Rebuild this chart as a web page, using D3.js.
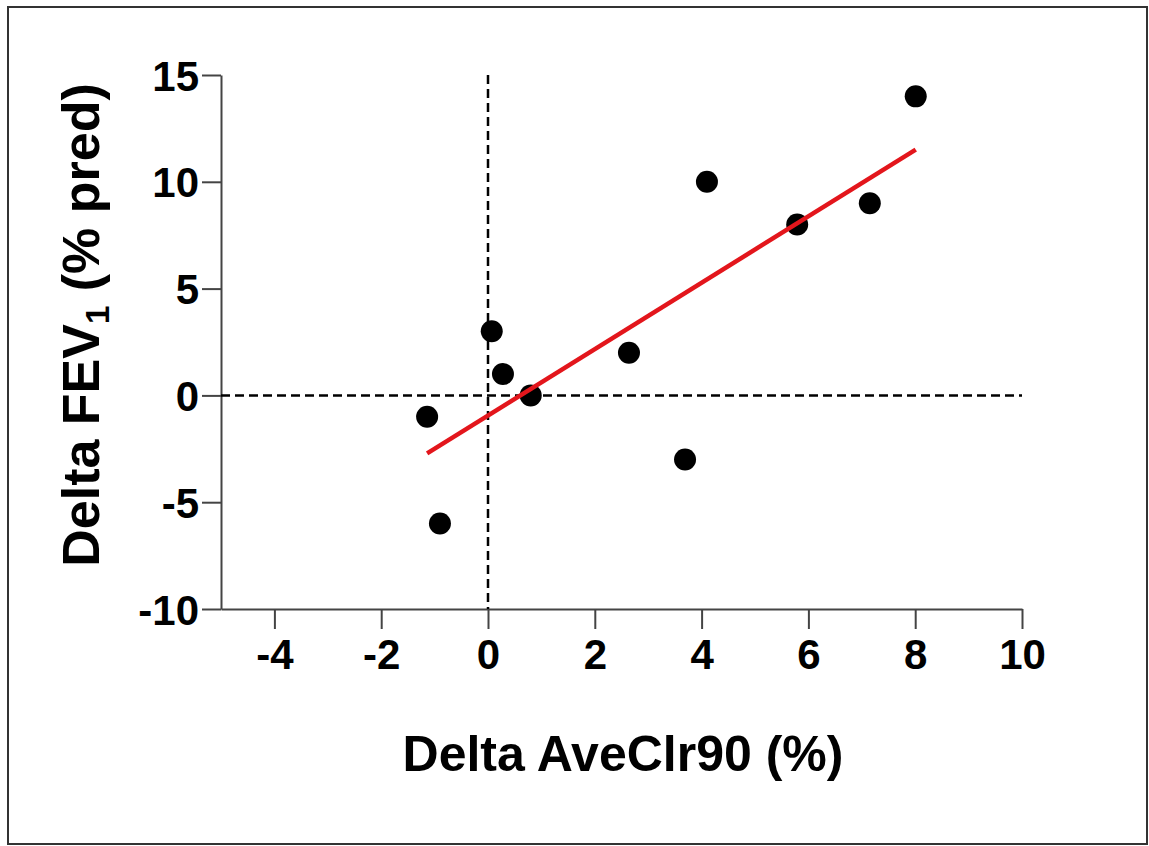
<!DOCTYPE html>
<html><head><meta charset="utf-8">
<script src="https://cdn.jsdelivr.net/npm/d3@7"></script>
<style>
html,body{margin:0;padding:0;background:#fff;}
svg text{font-family:"Liberation Sans",Arial,sans-serif;font-weight:bold;fill:#000;}
</style></head>
<body>
<svg id="chart" width="1149" height="846"></svg>
<script>
const deltaAveClr90 = [-1.14, -0.9, 0.07, 0.28, 0.8, 2.64, 3.69, 4.1, 5.79, 7.15, 8.01];
const deltaFEV1 = [-1, -6, 3, 1, 0, 2, -3, 10, 8, 9, 14];
const xTicks = [-4, -2, 0, 2, 4, 6, 8, 10];
const yTicks = [-10, -5, 0, 5, 10, 15];
const xDomain = [-5, 10];
const yDomain = [-10, 15];

const svg = d3.select("#chart");
const m = {left: 221, right: 1022, top: 75, bottom: 609};

svg.append("rect").attr("x", 8).attr("y", 7).attr("width", 1139).attr("height", 837)
  .attr("fill", "#fff").attr("stroke", "#333").attr("stroke-width", 2);

const x = d3.scaleLinear().domain(xDomain).range([m.left, m.right]);
const y = d3.scaleLinear().domain(yDomain).range([m.bottom, m.top]);

const xAxis = svg.append("g").attr("transform", `translate(0,${m.bottom})`)
  .call(d3.axisBottom(x).tickValues(xTicks).tickSize(20).tickSizeOuter(0).tickPadding(10));
const yAxis = svg.append("g").attr("transform", `translate(${m.left},0)`)
  .call(d3.axisLeft(y).tickValues(yTicks).tickSize(19).tickSizeOuter(0).tickPadding(3));
[xAxis, yAxis].forEach(g => {
  g.select(".domain").attr("stroke", "#444").attr("stroke-width", 2);
  g.selectAll(".tick line").attr("stroke", "#444").attr("stroke-width", 2);
  g.selectAll(".tick text").attr("font-size", 42).attr("fill", "#000")
    .style("font-family", '"Liberation Sans",Arial,sans-serif').style("font-weight", "bold")
    .text(d => String(d));
});
yAxis.selectAll(".tick text").attr("dy", "0.36em");

svg.append("line").attr("x1", x(0)).attr("x2", x(0)).attr("y1", y(yDomain[1])).attr("y2", y(yDomain[0]))
  .attr("stroke", "#000").attr("stroke-width", 2.5).attr("stroke-dasharray", "9,5");
svg.append("line").attr("x1", x(xDomain[0])).attr("x2", x(xDomain[1])).attr("y1", y(0)).attr("y2", y(0))
  .attr("stroke", "#000").attr("stroke-width", 2.5).attr("stroke-dasharray", "9,5");

const n = deltaAveClr90.length;
const mx = d3.mean(deltaAveClr90), my = d3.mean(deltaFEV1);
let sxy = 0, sxx = 0;
for (let i = 0; i < n; i++) { sxy += (deltaAveClr90[i]-mx)*(deltaFEV1[i]-my); sxx += (deltaAveClr90[i]-mx)**2; }
const slope = sxy / sxx, icpt = my - slope * mx;
const [x0, x1] = d3.extent(deltaAveClr90);

const pts = d3.range(n).map(i => ({x: deltaAveClr90[i], y: deltaFEV1[i]}));
svg.append("g").selectAll("circle").data(pts).join("circle")
  .attr("cx", d => x(d.x)).attr("cy", d => y(d.y)).attr("r", 11).attr("fill", "#000");

svg.append("line").attr("x1", x(x0)).attr("y1", y(icpt + slope*x0))
  .attr("x2", x(x1)).attr("y2", y(icpt + slope*x1))
  .attr("stroke", "#e3161c").attr("stroke-width", 4.5);

svg.append("text").attr("x", 623).attr("y", 771).attr("text-anchor", "middle")
  .attr("font-size", 50).text("Delta AveClr90 (%)");
const yt = svg.append("text").attr("transform", "translate(99,325) rotate(-90)")
  .attr("text-anchor", "middle").attr("font-size", 52);
yt.append("tspan").text("Delta FEV");
yt.append("tspan").attr("font-size", 33).attr("dy", 10).text("1");
yt.append("tspan").attr("dy", -10).text(" (% pred)");
</script>
</body></html>
